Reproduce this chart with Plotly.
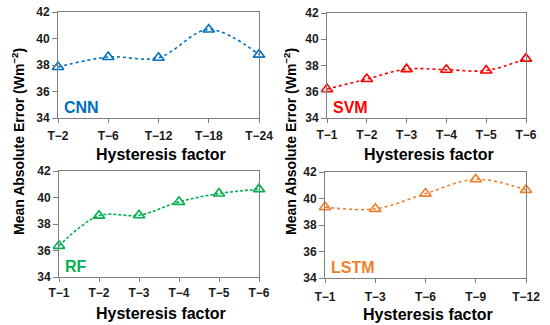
import plotly.graph_objects as go

cnn_x = ["T\u22122", "T\u22126", "T\u221212", "T\u221218", "T\u221224"]
cnn_y = [37.85, 38.6, 38.55, 40.68, 38.78]
svm_x = ["T\u22121", "T\u22122", "T\u22123", "T\u22124", "T\u22125", "T\u22126"]
svm_y = [36.2, 36.97, 37.72, 37.68, 37.62, 38.52]
rf_x = ["T\u22121", "T\u22122", "T\u22123", "T\u22124", "T\u22125", "T\u22126"]
rf_y = [36.35, 38.63, 38.66, 39.67, 40.3, 40.63]
lstm_x = ["T\u22121", "T\u22123", "T\u22126", "T\u22129", "T\u221212"]
lstm_y = [39.35, 39.22, 40.37, 41.45, 40.65]

names = ["CNN", "SVM", "RF", "LSTM"]
colors = ["#0070C0", "#FF0000", "#00B050", "#F07F2A"]
dashes = ["dot", "dot", "3px,2px", "dot"]
xs = [cnn_x, svm_x, rf_x, lstm_x]
ys = [cnn_y, svm_y, rf_y, lstm_y]

W, H = 550, 325
# pixel boxes (x0, x1, ytop, ybottom)
boxes = [(58, 259, 12, 118), (327, 526, 13, 118), (59, 259, 171, 277), (325, 526, 172, 278)]
standoffs = [3, 2, 1, 4]

fig = go.Figure()
FONT = "Liberation Sans, Arial, sans-serif"
for i in range(4):
    x0, x1, yt, yb = boxes[i]
    ax = "" if i == 0 else str(i + 1)
    fig.add_trace(go.Scatter(
        x=xs[i], y=ys[i], mode="lines+markers",
        line=dict(color=colors[i], width=1.6, dash=dashes[i], shape="spline", smoothing=1),
        marker=dict(symbol="triangle-up-open", size=10, color=colors[i], line=dict(width=1.6)),
        cliponaxis=False, showlegend=False, hoverinfo="skip",
        xaxis="x" + ax, yaxis="y" + ax))
    fig.layout["xaxis" + ax] = dict(
        domain=[x0 / W, x1 / W], anchor="y" + ax, type="category",
        range=[0, len(xs[i]) - 1], showgrid=False, zeroline=False,
        showline=True, linecolor="#7f7f7f", linewidth=1, mirror=True,
        ticks="outside", ticklen=4, tickcolor="#7f7f7f", automargin=False,
        ticklabelstandoff=standoffs[i],
        tickfont=dict(family=FONT, size=12, color="#1a1a1a", weight="bold"))
    fig.layout["yaxis" + ax] = dict(
        domain=[1 - yb / H, 1 - yt / H], anchor="x" + ax,
        range=[34, 42], dtick=2, showgrid=False, zeroline=False,
        showline=True, linecolor="#7f7f7f", linewidth=1, mirror=True,
        ticks="outside", ticklen=5, tickcolor="#7f7f7f", automargin=False,
        tickfont=dict(family=FONT, size=12, color="#1a1a1a", weight="bold"))
    # model label
    fig.add_annotation(x=(x0 + 4) / W, y=1 - (yb - 11) / H, xref="paper", yref="paper",
                       text=names[i], showarrow=False, xanchor="left", yanchor="middle",
                       font=dict(family=FONT, size=16, color=colors[i], weight="bold"))
    # x title
    fig.add_annotation(x=(x0 + x1) / 2 / W + 0.004, y=1 - (yb + 36) / H, xref="paper", yref="paper",
                       text="Hysteresis factor", showarrow=False, xanchor="center", yanchor="middle",
                       font=dict(family=FONT, size=16, color="#000000", weight="bold"))

for xp in [18, 290]:
    fig.add_annotation(x=xp / W, y=1 - 142 / H, xref="paper", yref="paper",
                       text="Mean Absolute Error (Wm<sup>\u22122</sup>)", showarrow=False,
                       textangle=-90, xanchor="center", yanchor="middle",
                       font=dict(family=FONT, size=14, color="#000000", weight="bold"))

fig.update_layout(width=W, height=H, margin=dict(l=0, r=0, t=0, b=0, autoexpand=False),
                  paper_bgcolor="white", plot_bgcolor="white", hovermode=False)
fig.write_html("out.html", config={"displayModeBar": False},
               post_script="document.body.style.margin='0';document.body.style.overflow='hidden';")
